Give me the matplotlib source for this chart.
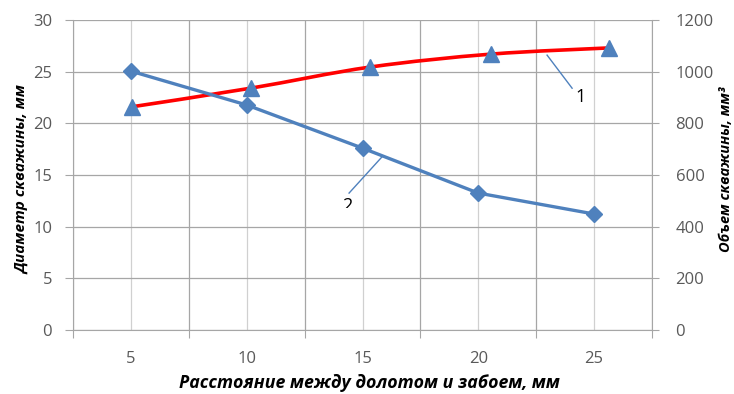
import numpy as np
import matplotlib
matplotlib.use("Agg")
import matplotlib.pyplot as plt
from matplotlib.path import Path
from matplotlib.patches import PathPatch
from matplotlib.transforms import Bbox, TransformedBbox

plt.rcParams['font.family'] = ['Open Sans', 'DejaVu Sans']

# ---------------------------------------------------------------------------
# data
# ---------------------------------------------------------------------------
categories = [5, 10, 15, 20, 25]                      # x-axis labels (mm)
volume = [1002, 871, 704, 530, 449]                    # curve 2, right axis, mm^3
diam_x = [5.04, 10.17, 15.34, 20.56, 25.65]            # curve 1 markers sit a bit right
diameter = [21.6, 23.4, 25.45, 26.7, 27.3]             # curve 1, left axis, mm
left_ticks = [0, 5, 10, 15, 20, 25, 30]
right_ticks = [0, 200, 400, 600, 800, 1000, 1200]

BLUE = "#4F81BD"
RED = "#FF0000"
TICK_C = "#595959"
GRID_C = "#A6A6A6"
GRID_LIGHT = "#D0D0D0"


def smooth_path(xs, ys, k=1 / 6):
    # Catmull-Rom -> cubic bezier, like Excel's "smoothed line"
    pts = np.column_stack([xs, ys])
    verts = [pts[0]]
    codes = [Path.MOVETO]
    n = len(pts)
    for i in range(n - 1):
        p0 = pts[max(i - 1, 0)]
        p1 = pts[i]
        p2 = pts[i + 1]
        p3 = pts[min(i + 2, n - 1)]
        verts += [p1 + (p2 - p0) * k, p2 - (p3 - p1) * k, p2]
        codes += [Path.CURVE4] * 3
    return Path(verts, codes)


fig = plt.figure(figsize=(7.34, 3.94), dpi=100)
ax = fig.add_axes([73 / 734, 64 / 394, 579 / 734, 310 / 394])
ax2 = ax.twinx()

# left axis (diameter)
ax.set_xlim(2.5, 27.5)
ax.set_ylim(0, 30)
ax.set_yticks(left_ticks)
ax.set_xticks([2.5, 7.5, 12.5, 17.5, 22.5, 27.5])
ax.set_xticks(categories, minor=True)
ax.set_xticklabels([])
ax.set_xticklabels([str(c) for c in categories], minor=True)
ax.tick_params(axis="x", which="major", length=6, color=GRID_C, direction="out")
ax.tick_params(axis="x", which="minor", length=0, pad=15, labelsize=12,
               labelcolor=TICK_C)
ax.tick_params(axis="y", length=6, color=GRID_C, pad=9, labelsize=12,
               labelcolor=TICK_C)
ax.grid(True, which="major", color=GRID_C, lw=0.9)
ax.grid(True, which="minor", axis="x", color=GRID_LIGHT, lw=0.9)
ax.set_axisbelow(True)
for s in ["top", "right"]:
    ax.spines[s].set_visible(False)
for s in ["left", "bottom"]:
    ax.spines[s].set_color(GRID_C)

# right axis (volume)
ax2.set_ylim(0, 1200)
ax2.set_yticks(right_ticks)
ax2.tick_params(axis="y", length=5, color=GRID_C, pad=12, labelsize=12,
                labelcolor=TICK_C)
for s in ["top", "left", "bottom"]:
    ax2.spines[s].set_visible(False)
ax2.spines["right"].set_color(GRID_C)

# curve 1: smoothed red line with blue triangles
ax.add_patch(PathPatch(smooth_path(diam_x, diameter), fill=False,
                       edgecolor=RED, lw=2.6, zorder=3))
ax.plot(diam_x, diameter, ls="none", marker="^", ms=11, color=BLUE, zorder=4)

# curve 2: blue line with diamonds
ax2.plot(categories, volume, color=BLUE, lw=2.4, marker="D", ms=8,
         solid_capstyle="round", zorder=3)

# leader lines + labels
ax.plot([22.97, 24.05], [26.6, 23.4], color=BLUE, lw=1, zorder=5)
ax.text(24.4, 22.5, "1", fontsize=13, ha="center", va="center", zorder=5)
ax2.plot([15.84, 14.42], [670, 530], color=BLUE, lw=1, zorder=5)
# label "2" is cut off at the bottom in the original
t2 = ax2.text(14.33, 514, "2", fontsize=13, ha="center", va="top", zorder=5,
              clip_on=True)
t2.set_clip_box(TransformedBbox(Bbox([[13.5, 474], [15.5, 536]]), ax2.transData))

# axis titles
fig.text(22 / 734, 1 - 180 / 394, "Диаметр скважины, мм", rotation=90,
         ha="center", va="center", fontsize=11, fontweight="bold",
         style="italic")
fig.text(726 / 734, 1 - 169 / 394, "Объем скважины, мм³", rotation=90,
         ha="center", va="center", fontsize=10.5, fontweight="bold",
         style="italic")
fig.text(369 / 734, 1 - 383 / 394, "Расстояние между долотом и забоем, мм",
         ha="center", va="center", fontsize=12.8, fontweight="bold",
         style="italic")

fig.savefig("out.png", dpi=100)
